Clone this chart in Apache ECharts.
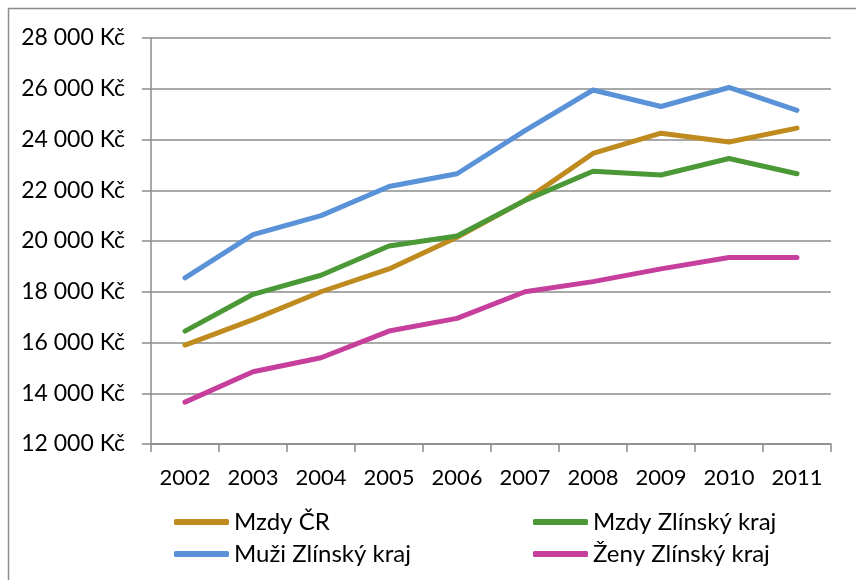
<!DOCTYPE html>
<html>
<head>
<meta charset="utf-8">
<script src="https://cdn.jsdelivr.net/npm/echarts@6/dist/echarts.min.js"></script>
<style>
  html, body { margin: 0; padding: 0; background: #fff; }
  #chart { width: 856px; height: 580px; }
</style>
</head>
<body>
<div id="chart"></div>
<script>
const years = ["2002", "2003", "2004", "2005", "2006", "2007", "2008", "2009", "2010", "2011"];
const mzdyCR = [15900, 16900, 18000, 18900, 20150, 21600, 23450, 24250, 23900, 24450];
const mzdyZlin = [16450, 17900, 18650, 19800, 20200, 21600, 22750, 22600, 23250, 22650];
const muziZlin = [18550, 20250, 21000, 22150, 22650, 24350, 25950, 25300, 26050, 25150];
const zenyZlin = [13650, 14850, 15400, 16450, 16950, 18000, 18400, 18900, 19350, 19350];

const font = "Lato, 'Open Sans', sans-serif";
const gray = "#8c8c8c";

const fmt = (v) => String(v).replace(/\B(?=(\d{3})+(?!\d))/g, " ") + " Kč";

const line = (name, data, color) => ({
  name,
  type: "line",
  data,
  symbol: "none",
  lineStyle: { width: 5, color, cap: "round", join: "round" },
  itemStyle: { color },
  emphasis: { disabled: true },
});

const chart = echarts.init(document.getElementById("chart"), null, { renderer: "canvas" });

const legendBase = {
  orient: "vertical",
  top: 504,
  icon: "roundRect",
  itemWidth: 55,
  itemHeight: 6,
  itemGap: 6,
  textStyle: { fontFamily: font, fontSize: 24, color: "#000", lineHeight: 26 },
};

chart.setOption({
  backgroundColor: "#fff",
  animation: false,
  graphic: [{
    type: "rect",
    shape: { x: 8.5, y: 8.5, width: 900, height: 700 },
    style: { fill: "none", stroke: gray, lineWidth: 1.5 },
    silent: true,
  }],
  grid: { left: 151, right: 25, top: 38, bottom: 136, containLabel: false },
  xAxis: {
    type: "category",
    data: years,
    boundaryGap: true,
    axisLine: { lineStyle: { color: gray, width: 1.5 } },
    axisTick: { show: true, length: 8, lineStyle: { color: gray, width: 1.5 } },
    axisLabel: { fontFamily: font, fontSize: 22, color: "#000", margin: 23 },
  },
  yAxis: {
    type: "value",
    min: 12000,
    max: 28000,
    interval: 2000,
    axisLine: { show: true, lineStyle: { color: gray, width: 1.5 } },
    axisTick: { show: true, length: 9, lineStyle: { color: gray, width: 1.5 } },
    splitLine: { lineStyle: { color: gray, width: 1.5 } },
    axisLabel: { fontFamily: font, fontSize: 23, color: "#000", margin: 26, formatter: fmt },
  },
  legend: [
    { ...legendBase, left: 169, data: ["Mzdy ČR", "Muži Zlínský kraj"] },
    { ...legendBase, left: 528, data: ["Mzdy Zlínský kraj", "Ženy Zlínský kraj"] },
  ],
  series: [
    line("Mzdy ČR", mzdyCR, "#bf8a1e"),
    line("Mzdy Zlínský kraj", mzdyZlin, "#4b9837"),
    line("Muži Zlínský kraj", muziZlin, "#5a92d8"),
    line("Ženy Zlínský kraj", zenyZlin, "#c73f9c"),
  ],
});
</script>
</body>
</html>
